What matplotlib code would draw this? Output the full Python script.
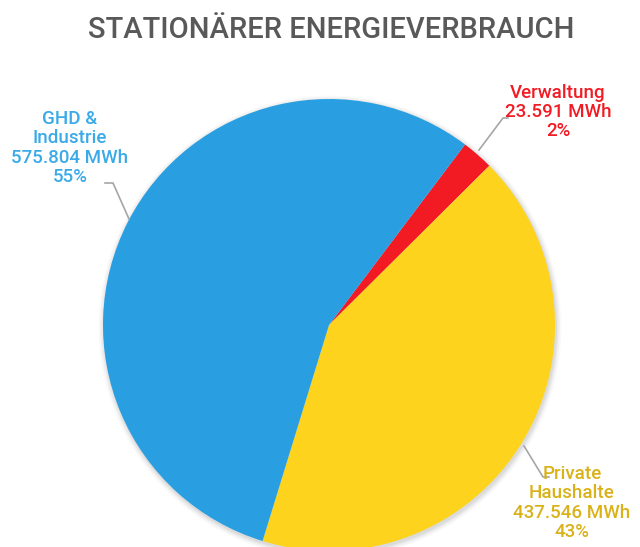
import matplotlib.pyplot as plt
from matplotlib.patches import Circle

labels = ["Verwaltung", "Private\nHaushalte", "GHD &\nIndustrie"]
values_mwh = [23591, 437546, 575804]
shares_pct = [2, 43, 55]  # as printed on the chart
colors = ["#F21B24", "#FDD31D", "#299FE2"]
label_colors = ["#F21B24", "#D9B21A", "#3AAAE8"]

W, H = 640, 547
fig = plt.figure(figsize=(W / 100, H / 100), dpi=100)
ax = fig.add_axes([0, 0, 1, 1])

cx, cy, r = 329, H - 325, 226

# soft shadow
for i, a in enumerate([0.05, 0.04, 0.03, 0.02]):
    ax.add_patch(Circle((cx + 1, cy - 2), r + 1 + i * 1.5, color="black",
                        alpha=a, lw=0, zorder=0))

ax.pie(values_mwh, colors=colors, startangle=53, counterclock=False,
       center=(cx, cy), radius=r, frame=True,
       wedgeprops=dict(linewidth=0, zorder=2))
ax.set_xlim(0, W)
ax.set_ylim(0, H)
ax.set_aspect("equal")
ax.axis("off")


def fmt(v):
    return f"{v:,}".replace(",", ".")


texts = [f"{lab}\n{fmt(v)} MWh\n{p}%"
         for lab, v, p in zip(labels, values_mwh, shares_pct)]
text_pos = [(558, H - 112), (572, H - 503), (70, H - 148)]
for t, (x, y), c in zip(texts, text_pos, label_colors):
    ax.text(x, y, t, ha="center", va="center", color=c, fontsize=13.5,
            family="Roboto", weight="medium", linespacing=1.1, zorder=5)

# leader lines
lines = [
    [(479, H - 150), (503, H - 118), (508, H - 118)],
    [(524, H - 446), (543, H - 477), (549, H - 477)],
    [(129, H - 219), (113, H - 183), (105, H - 183)],
]
for pts in lines:
    xs, ys = zip(*pts)
    ax.plot(xs, ys, color="#A6A6A6", lw=1.2, zorder=4)

ax.text(331, H - 30, "STATIONÄRER ENERGIEVERBRAUCH", ha="center",
        va="center", color="#595959", fontsize=21, family="Roboto",
        weight="medium")

fig.savefig("out.png", dpi=100)
